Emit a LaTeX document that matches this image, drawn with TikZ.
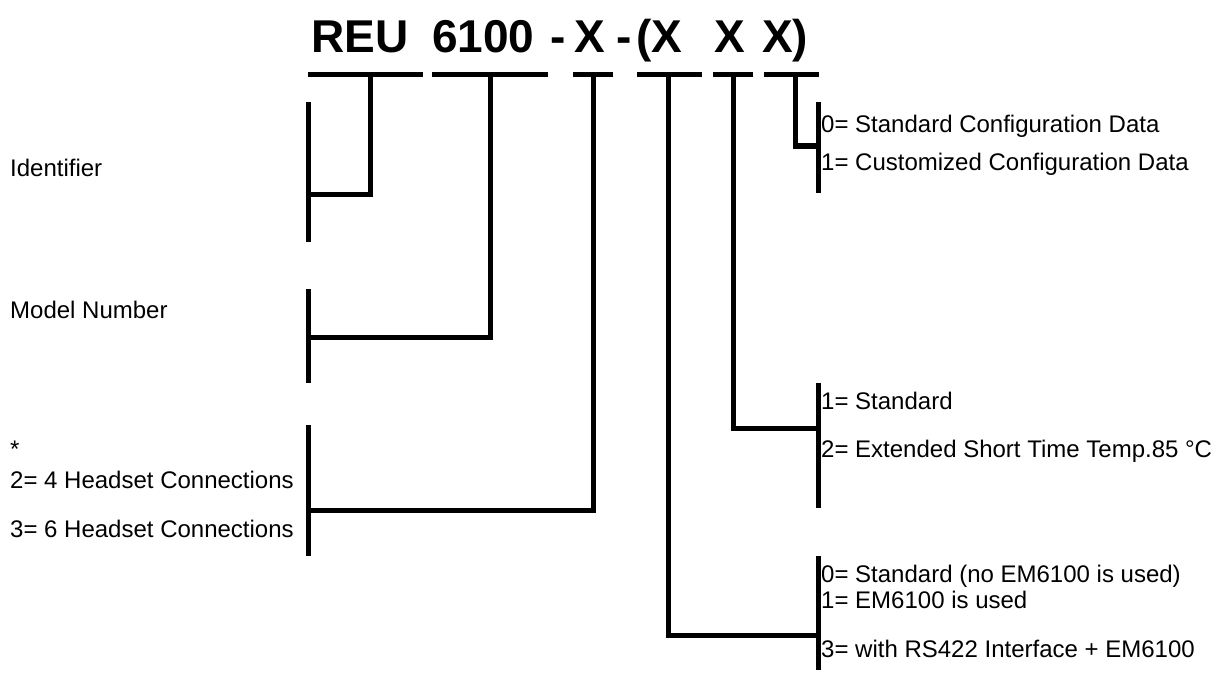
\documentclass[tikz,border=0pt]{standalone}
\usepackage{fontspec}
\setmainfont{Liberation Sans}
\begin{document}
\begin{tikzpicture}[x=1pt,y=-1pt,
  bar/.style={line width=5pt, line join=miter},
  lbl/.style={anchor=base west, inner sep=0pt, font=\fontsize{24}{28}\selectfont},
  ttl/.style={anchor=base west, inner sep=0pt, font=\fontsize{46}{50}\selectfont\bfseries}]
\useasboundingbox[fill=white] (0,0) rectangle (1231,674);
% title pieces
\node[ttl] (tREU) at (311,53) {REU};
\node[ttl] (t6100) at (432,53) {6100};
\node[ttl] (th1) at (550,53) {-};
\node[ttl] (tX1) at (574,53) {X};
\node[ttl] (th2) at (616,53) {-};
\node[ttl] (tX2) at (636,53) {(X};
\node[ttl] (tX3) at (714,53) {X};
\node[ttl] (tX4) at (762,53) {X)};
% bar coordinates
\coordinate (b1l) at (308,75); \coordinate (b1r) at (423,75); \coordinate (b1m) at (370,75);
\coordinate (b2l) at (432,75); \coordinate (b2r) at (548,75); \coordinate (b2m) at (490,75);
\coordinate (b3l) at (573,75); \coordinate (b3r) at (613,75); \coordinate (b3m) at (593,75);
\coordinate (b4l) at (637,75); \coordinate (b4r) at (702,75); \coordinate (b4m) at (668,75);
\coordinate (b5l) at (713,75); \coordinate (b5r) at (753,75); \coordinate (b5m) at (733,75);
\coordinate (b6l) at (764,75); \coordinate (b6r) at (819,75); \coordinate (b6m) at (795,75);
% bracket coordinates
\coordinate (idT) at (308,102); \coordinate (idB) at (308,242); \coordinate (idJ) at (308,194);
\coordinate (mnT) at (308,289); \coordinate (mnB) at (308,383); \coordinate (mnJ) at (308,337);
\coordinate (hsT) at (308,425); \coordinate (hsB) at (308,556); \coordinate (hsJ) at (308,510);
\coordinate (cfT) at (818,102); \coordinate (cfB) at (818,193); \coordinate (cfJ) at (818,146);
\coordinate (tpT) at (818,383); \coordinate (tpB) at (818,508); \coordinate (tpJ) at (818,428);
\coordinate (emT) at (818,556); \coordinate (emB) at (818,670); \coordinate (emJ) at (818,635);
% bars
\foreach \b in {b1,b2,b3,b4,b5,b6} {\draw[bar] (\b l) -- (\b r);}
% brackets
\foreach \k in {id,mn,hs,cf,tp,em} {\draw[bar] (\k T) -- (\k B);}
% drops
\draw[bar] (b1m) |- (idJ);
\draw[bar] (b2m) |- (mnJ);
\draw[bar] (b3m) |- (hsJ);
\draw[bar] (b4m) |- (emJ);
\draw[bar] (b5m) |- (tpJ);
\draw[bar] (b6m) |- (cfJ);
% left labels
\node[lbl] (lId) at (10,176) {Identifier};
\node[lbl] (lMn) at (10,318) {Model Number};
\node[lbl] (lAst) at (10,457) {*};
\node[lbl] (lH4) at (10,488) {2= 4 Headset Connections};
\node[lbl] (lH6) at (10,537) {3= 6 Headset Connections};
% right labels
\node[lbl] (rC0) at (821,133) {0= Standard Configuration Data};
\node[lbl] (rC1) at (821,170) {1= Customized Configuration Data};
\node[lbl] (rT1) at (821,409) {1= Standard};
\node[lbl] (rT2) at (821,457) {2= Extended Short Time Temp.85 °C};
\node[lbl] (rE0) at (821,582) {0= Standard (no EM6100 is used)};
\node[lbl] (rE1) at (821,608) {1= EM6100 is used};
\node[lbl] (rE3) at (821,657) {3= with RS422 Interface + EM6100};
\end{tikzpicture}
\end{document}
